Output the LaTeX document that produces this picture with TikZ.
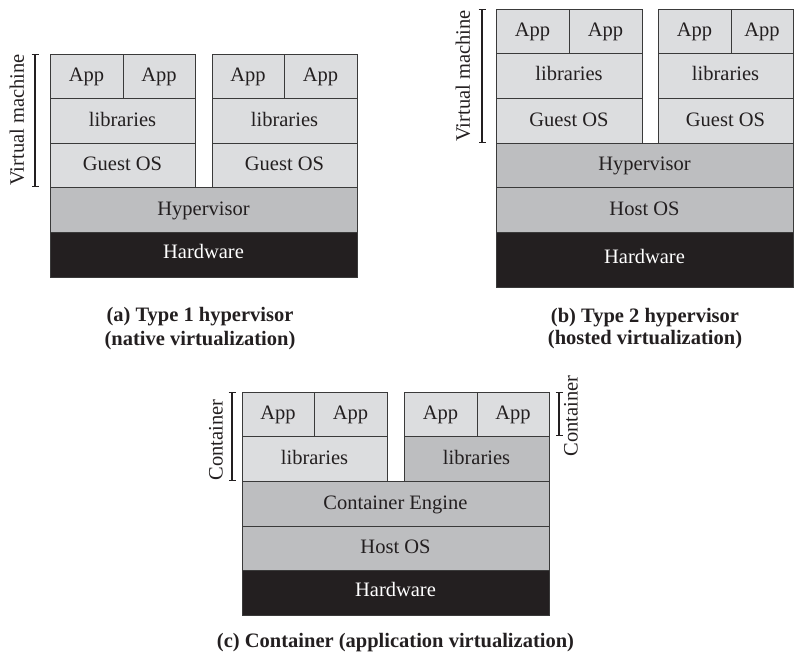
\documentclass[tikz,border=0pt]{standalone}
\usepackage{fontspec}
\setmainfont{Liberation Serif}
\usepackage{xcolor}
\usetikzlibrary{arrows.meta}

\definecolor{guestgray}{HTML}{DCDDDF}
\definecolor{hostgray}{HTML}{BDBEC0}
\definecolor{hwblack}{HTML}{231F20}
\definecolor{inkgray}{HTML}{3A3A3A}

\tikzset{
  layer/.style={draw=inkgray, line width=0.8pt, inner sep=0pt, text=hwblack, text height=1.1em, text depth=0pt},
  guestlayer/.style={layer, fill=guestgray},
  hostlayer/.style={layer, fill=hostgray},
  hwlayer/.style={layer, fill=hwblack, text=white, text height=0.7em},
  span/.style={draw=hwblack, line width=1.2pt, {Bar[width=7pt]}-{Bar[width=7pt]}},
  sidelabel/.style={rotate=90, text=hwblack},
  caption/.style={anchor=base, text=hwblack, font=\fontsize{20.5}{23}\selectfont\bfseries},
}

\begin{document}
\begin{tikzpicture}[x=1pt, y=-1pt, font=\fontsize{20.5}{23}\selectfont]
    \useasboundingbox (0,0) rectangle (794,661);

    % (a) Type 1
    \node[guestlayer, minimum width=73pt, minimum height=44pt] (a-app1) at (86.5,76) {App};
    \node[guestlayer, minimum width=72pt, minimum height=44pt] (a-app2) at (159,76) {App};
    \node[guestlayer, minimum width=72pt, minimum height=44pt] (a-app3) at (248,76) {App};
    \node[guestlayer, minimum width=73pt, minimum height=44pt] (a-app4) at (320.5,76) {App};
    \node[guestlayer, minimum width=145pt, minimum height=45pt] (a-lib1) at (122.5,120.5) {libraries};
    \node[guestlayer, minimum width=145pt, minimum height=45pt] (a-lib2) at (284.5,120.5) {libraries};
    \node[guestlayer, minimum width=145pt, minimum height=44pt] (a-os1) at (122.5,165) {Guest OS};
    \node[guestlayer, minimum width=145pt, minimum height=44pt] (a-os2) at (284.5,165) {Guest OS};
    \node[hostlayer, minimum width=307pt, minimum height=45pt] (a-hyp) at (203.5,209.5) {Hypervisor};
    \node[hwlayer, minimum width=307pt, minimum height=45pt] (a-hw) at (203.5,254.5) {Hardware};
    \coordinate (a-vmtop) at (35,54);
    \coordinate (a-vmbot) at (35,187);
    \draw[span] (a-vmtop) -- (a-vmbot);
    \node[sidelabel] (a-vmlabel) at (17,120) {Virtual machine};
    \node[caption] (a-cap1) at (200,321.7) {(a) Type 1 hypervisor};
    \node[caption] (a-cap2) at (200,345) {(native virtualization)};

    % (b) Type 2
    \node[guestlayer, minimum width=73pt, minimum height=44pt] (b-app1) at (532.5,31) {App};
    \node[guestlayer, minimum width=73pt, minimum height=44pt] (b-app2) at (605.5,31) {App};
    \node[guestlayer, minimum width=73pt, minimum height=44pt] (b-app3) at (694.5,31) {App};
    \node[guestlayer, minimum width=62pt, minimum height=44pt] (b-app4) at (762,31) {App};
    \node[guestlayer, minimum width=146pt, minimum height=45pt] (b-lib1) at (569,75.5) {libraries};
    \node[guestlayer, minimum width=135pt, minimum height=45pt] (b-lib2) at (725.5,75.5) {libraries};
    \node[guestlayer, minimum width=146pt, minimum height=45pt] (b-os1) at (569,120.5) {Guest OS};
    \node[guestlayer, minimum width=135pt, minimum height=45pt] (b-os2) at (725.5,120.5) {Guest OS};
    \node[hostlayer, minimum width=297pt, minimum height=44pt] (b-hyp) at (644.5,165) {Hypervisor};
    \node[hostlayer, minimum width=297pt, minimum height=45pt] (b-host) at (644.5,209.5) {Host OS};
    \node[hwlayer, minimum width=297pt, minimum height=55pt] (b-hw) at (644.5,259.5) {Hardware};
    \coordinate (b-vmtop) at (482,9);
    \coordinate (b-vmbot) at (482,143);
    \draw[span] (b-vmtop) -- (b-vmbot);
    \node[sidelabel] (b-vmlabel) at (463,76) {Virtual machine};
    \node[caption] (b-cap1) at (645,322) {(b) Type 2 hypervisor};
    \node[caption] (b-cap2) at (645,344) {(hosted virtualization)};

    % (c) Container
    \node[guestlayer, minimum width=72pt, minimum height=44pt] (c-app1) at (278,414) {App};
    \node[guestlayer, minimum width=73pt, minimum height=44pt] (c-app2) at (350.5,414) {App};
    \node[guestlayer, minimum width=73pt, minimum height=44pt] (c-app3) at (440.5,414) {App};
    \node[guestlayer, minimum width=72pt, minimum height=44pt] (c-app4) at (513,414) {App};
    \node[guestlayer, minimum width=145pt, minimum height=45pt] (c-lib1) at (314.5,458.5) {libraries};
    \node[hostlayer, minimum width=145pt, minimum height=45pt] (c-lib2) at (476.5,458.5) {libraries};
    \node[hostlayer, minimum width=307pt, minimum height=45pt] (c-eng) at (395.5,503.5) {Container Engine};
    \node[hostlayer, minimum width=307pt, minimum height=44pt] (c-host) at (395.5,548) {Host OS};
    \node[hwlayer, minimum width=307pt, minimum height=45pt] (c-hw) at (395.5,592.5) {Hardware};
    \coordinate (c-ltop) at (232,392);
    \coordinate (c-lbot) at (232,481);
    \draw[span] (c-ltop) -- (c-lbot);
    \node[sidelabel] (c-llabel) at (216,440) {Container};
    \coordinate (c-rtop) at (559,392);
    \coordinate (c-rbot) at (559,436);
    \draw[span] (c-rtop) -- (c-rbot);
    \node[sidelabel] (c-rlabel) at (571,416) {Container};
    \node[caption] (c-cap) at (395.5,647) {(c) Container (application virtualization)};
\end{tikzpicture}
\end{document}
